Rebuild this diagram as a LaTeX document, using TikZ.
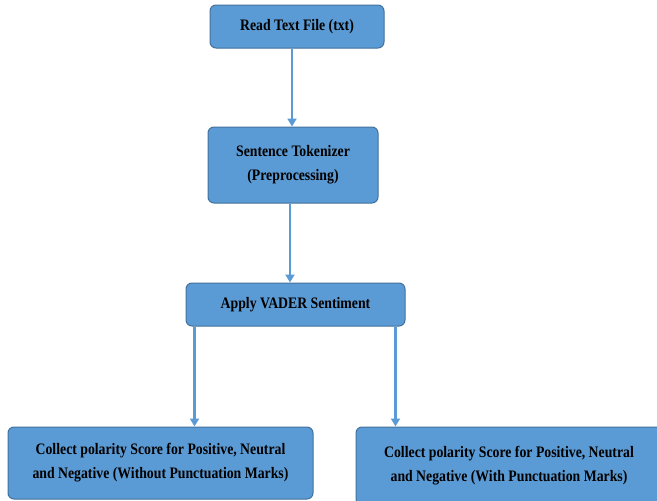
\documentclass[tikz,border=0pt]{standalone}
\usepackage{fontspec}
\setmainfont{Liberation Serif}[FakeStretch=0.86]
\usetikzlibrary{arrows.meta}
\definecolor{boxfill}{HTML}{5B9BD5}
\definecolor{boxline}{HTML}{41719C}
\begin{document}
\begin{tikzpicture}[x=1pt,y=-1pt,
    procbox/.style={draw=boxline, line width=1pt, fill=boxfill, rounded corners=6pt,
        align=center, font=\bfseries\fontsize{16}{24}\selectfont, inner sep=0pt},
    flow/.style={draw=boxfill, line width=2.2pt, -{Triangle[width=9pt,length=8pt]}}]
    \useasboundingbox (0,0) rectangle (657,501);
    \node[procbox, minimum width=174pt, minimum height=43pt] (readfile) at (297,26.5) {Read Text File (txt)};
    \node[procbox, minimum width=170pt, minimum height=76pt] (tokenizer) at (293,165) {Sentence Tokenizer\\(Preprocessing)};
    \node[procbox, minimum width=219pt, minimum height=43pt] (vader) at (295.5,304.5) {Apply VADER Sentiment};
    \node[procbox, minimum width=305pt, minimum height=72pt] (polwithout) at (160.5,463) {Collect polarity Score for Positive, Neutral\\and Negative (Without Punctuation Marks)};
    \node[procbox, minimum width=306pt, minimum height=78pt] (polwith) at (509,466) {Collect polarity Score for Positive, Neutral\\and Negative (With Punctuation Marks)};

    \draw[flow] ([xshift=-5pt]readfile.south) -- ([xshift=-1pt]tokenizer.north);
    \draw[flow] ([xshift=-3pt]tokenizer.south) -- ([xshift=-5.5pt]vader.north);
    \draw[flow] ([xshift=9pt]vader.south west) -- ([xshift=9pt]vader.south west |- polwithout.north);
    \draw[flow] ([xshift=-10pt]vader.south east) -- ([xshift=-10pt]vader.south east |- polwith.north);
\end{tikzpicture}
\end{document}
